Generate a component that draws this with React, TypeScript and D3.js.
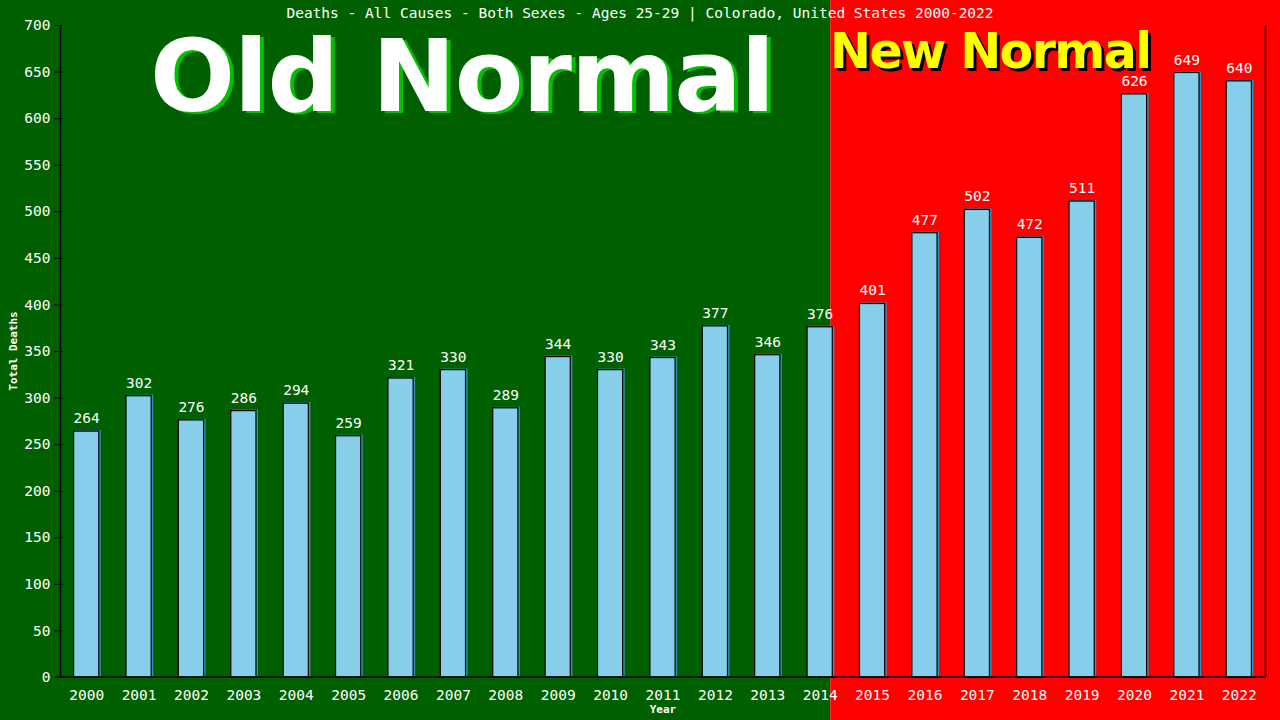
import * as d3 from 'd3'
import React, { useRef, useEffect } from 'react'

const years = ['2000', '2001', '2002', '2003', '2004', '2005', '2006', '2007', '2008', '2009', '2010', '2011', '2012', '2013', '2014', '2015', '2016', '2017', '2018', '2019', '2020', '2021', '2022']
const deaths = [264, 302, 276, 286, 294, 259, 321, 330, 289, 344, 330, 343, 377, 346, 376, 401, 477, 502, 472, 511, 626, 649, 640]
const yTicks = [0, 50, 100, 150, 200, 250, 300, 350, 400, 450, 500, 550, 600, 650, 700]
const title = 'Deaths - All Causes - Both Sexes - Ages 25-29 | Colorado, United States 2000-2022'
const lastOldYear = '2014'

const mono = '"DejaVu Sans Mono", monospace'
const sans = '"DejaVu Sans", Verdana, sans-serif'

const App = () => {
  const ref = useRef(null)

  useEffect(() => {
    draw()
  }, [])

  const draw = () => {
    const totalWidth = 1280
    const totalHeight = 720
    const left = 60.5
    const right = 1265.5
    const top = 25
    const bottom = 677

    const svg = d3.select(ref.current)
    svg.selectAll('*').remove()

    const xScale = d3.scaleBand().domain(years).range([left, right]).paddingInner(0.5).paddingOuter(0.25)
    const yScale = d3.scaleLinear().domain([0, 700]).range([bottom, top])

    // background halves
    const split = (xScale(lastOldYear) as number) + xScale.bandwidth() - 3
    svg.append('rect').attr('x', 0).attr('y', 0).attr('width', split).attr('height', totalHeight).attr('fill', '#006000')
    svg.append('rect').attr('x', split).attr('y', 0).attr('width', totalWidth - split).attr('height', totalHeight).attr('fill', '#ff0000')

    // title
    svg
      .append('text')
      .attr('x', 640)
      .attr('y', 18)
      .attr('text-anchor', 'middle')
      .attr('fill', '#fff')
      .style('font-family', mono)
      .style('font-size', '14.5px')
      .text(title)

    // Old Normal / New Normal banners
    const oldG = svg.append('g').style('font-family', sans).style('font-weight', 'bold').style('font-size', '100px')
    oldG.append('text').attr('x', 154).attr('y', 113).attr('textLength', 625).attr('fill', '#00c000').text('Old Normal')
    oldG.append('text').attr('x', 150).attr('y', 111).attr('textLength', 625).attr('fill', '#fff').text('Old Normal')

    const newG = svg.append('g').style('font-family', sans).style('font-weight', 'bold').style('font-size', '49px')
    newG.append('text').attr('x', 833).attr('y', 71).attr('textLength', 322).attr('fill', '#000').text('New Normal')
    newG.append('text').attr('x', 830).attr('y', 68).attr('textLength', 322).attr('fill', '#ffff00').text('New Normal')

    // bars
    const bar = svg.append('g').selectAll('g').data(deaths).enter().append('g')
    bar
      .append('rect')
      .attr('x', (d, i) => (xScale(years[i]) as number) + 1)
      .attr('y', (d) => yScale(d) - 1)
      .attr('width', xScale.bandwidth())
      .attr('height', (d) => bottom - yScale(d) + 1)
      .attr('fill', '#3a8fb7')
    bar
      .append('rect')
      .attr('x', (d, i) => xScale(years[i]) as number)
      .attr('y', (d) => yScale(d))
      .attr('width', xScale.bandwidth() - 1)
      .attr('height', (d) => bottom - yScale(d))
      .attr('fill', '#87ceeb')
      .attr('stroke', '#000')
      .attr('stroke-width', 1.2)
    bar
      .append('text')
      .attr('x', (d, i) => (xScale(years[i]) as number) + xScale.bandwidth() / 2)
      .attr('y', (d) => yScale(d) - 8)
      .attr('text-anchor', 'middle')
      .attr('fill', '#fff')
      .style('font-family', mono)
      .style('font-size', '14.5px')
      .text((d) => d)

    // axes
    const xAxis = d3.axisBottom(xScale).tickSize(0).tickPadding(10)
    const yAxis = d3.axisLeft(yScale).tickValues(yTicks).tickSize(5).tickPadding(5).tickSizeOuter(0)

    const gx = svg.append('g').attr('transform', `translate(0,${bottom})`).call(xAxis)
    gx.select('.domain').remove()
    gx.selectAll('text').attr('fill', '#fff').attr('dy', '0.9em').style('font-family', mono).style('font-size', '14.5px')

    const gy = svg.append('g').attr('transform', `translate(${left},0)`).call(yAxis)
    gy.select('.domain').remove()
    gy.selectAll('line').attr('stroke', '#000').attr('x2', 2).attr('x1', -6)
    gy.selectAll('text').attr('fill', '#fff').attr('x', -10).style('font-family', mono).style('font-size', '14.5px')

    // frame lines
    svg.append('line').attr('x1', left).attr('x2', left).attr('y1', top).attr('y2', bottom).attr('stroke', '#000').attr('stroke-width', 1.5)
    svg.append('line').attr('x1', right).attr('x2', right).attr('y1', top).attr('y2', bottom).attr('stroke', '#000').attr('stroke-width', 1.5)
    svg.append('line').attr('x1', 55).attr('x2', right).attr('y1', bottom).attr('y2', bottom).attr('stroke', '#000').attr('stroke-width', 1.5)

    // axis titles
    svg
      .append('text')
      .attr('transform', `translate(17,${(top + bottom) / 2}) rotate(-90)`)
      .attr('text-anchor', 'middle')
      .attr('fill', '#fff')
      .style('font-family', mono)
      .style('font-weight', 'bold')
      .style('font-size', '11px')
      .text('Total Deaths')
    svg
      .append('text')
      .attr('x', (left + right) / 2)
      .attr('y', 713)
      .attr('text-anchor', 'middle')
      .attr('fill', '#fff')
      .style('font-family', mono)
      .style('font-weight', 'bold')
      .style('font-size', '11px')
      .text('Year')
  }

  return (
    <div style={{ position: 'absolute', left: 0, top: 0 }}>
      <svg ref={ref} width={1280} height={720} style={{ display: 'block' }} />
    </div>
  )
}

export default App
